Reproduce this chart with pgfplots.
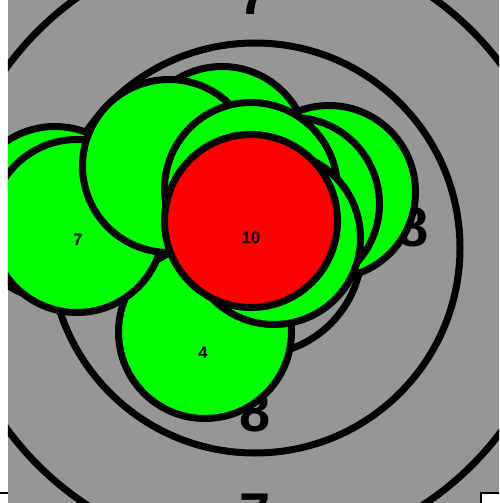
\documentclass[border=0pt]{standalone}
\usepackage{pgfplots}
\pgfplotsset{compat=1.18}
\usepackage{fontspec}
\setmainfont{Liberation Sans}
\definecolor{tgray}{RGB}{150,150,150}
\definecolor{tgreen}{RGB}{0,255,0}
\definecolor{tred}{RGB}{255,0,0}
\tikzset{
  ringlab/.style={font=\bfseries\fontsize{56}{56}\selectfont, inner sep=0pt},
  shotlab/.style={font=\bfseries\fontsize{16.5}{16.5}\selectfont, inner sep=0pt},
}
\pgfplotsset{
  base/.style={scale only axis, width=491pt, height=503pt,
    xmin=8, xmax=499, ymin=0, ymax=503, y dir=reverse,
    hide axis, clip=true, clip marker paths=true},
  shot/.style={only marks, mark=*, mark size=86.5pt,
    mark options={draw=black, line width=7pt, fill=tgreen}},
  redshot/.style={only marks, mark=*, mark size=86.5pt,
    mark options={draw=black, line width=7pt, fill=tred}},
  ring/.style={only marks, mark=o, mark options={draw=black, line width=7pt}},
}
\begin{document}
\begin{tikzpicture}
% ---- layer 1: target
\begin{axis}[base]
\addplot[fill=tgray, draw=none] coordinates {(8,0) (499,0) (499,503) (8,503)} -- cycle;
\addplot[ring, mark size=307pt] coordinates {(255,248)};
\addplot[ring, mark size=205pt] coordinates {(255,248)};
\addplot[ring, mark size=107pt] coordinates {(255,248)};
\node[ringlab] at (axis cs:413,227) {8};
\node[ringlab] at (axis cs:255,412) {8};
\node[ringlab] at (axis cs:254,-5) {7};
\node[ringlab] at (axis cs:255,513) {7};
\end{axis}
% ---- layer 2: shots
\begin{axis}[base]
\addplot[shot] coordinates {(205,332)};
\addplot[shot] coordinates {(55,213)};
\addplot[shot] coordinates {(77,226)};
\addplot[shot] coordinates {(222,153)};
\addplot[shot] coordinates {(169,166)};
\addplot[shot] coordinates {(329,192)};
\addplot[shot] coordinates {(293,204)};
\addplot[shot] coordinates {(251,189)};
\addplot[shot] coordinates {(274,238)};
\addplot[redshot] coordinates {(251,221)};
\node[shotlab] at (axis cs:251,238) {10};
\node[shotlab] at (axis cs:78,240) {7};
\node[shotlab] at (axis cs:203,353) {4};
\addplot[fill=white, draw=none] coordinates {(481,493) (499,493) (499,503) (481,503)} -- cycle;
\addplot[black, line width=1.3pt] coordinates {(499,493) (481,493) (481,503)};
\end{axis}
\draw[line width=1.3pt] ([yshift=10pt]current axis.south west) -- ++(-8pt,0);
\pgfresetboundingbox
\path[use as bounding box] ([xshift=-8pt]current axis.south west) rectangle (current axis.north east);
\end{tikzpicture}
\end{document}
